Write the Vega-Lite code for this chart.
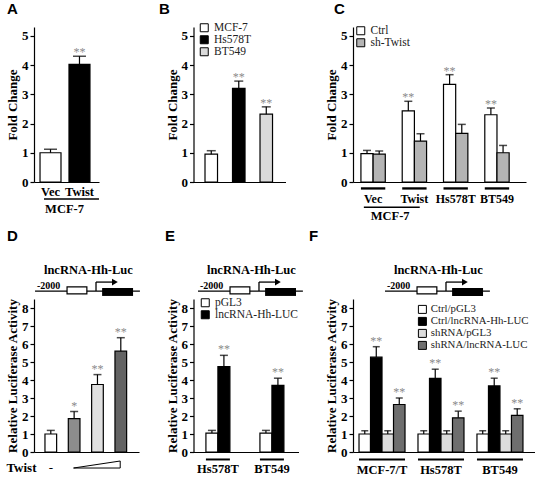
{
"$schema":"https://vega.github.io/schema/vega-lite/v6.json",
"background":"white",
"padding":{"left":5,"top":2,"right":0,"bottom":0},
"columns":3,
"bounds":"flush",
"spacing":{"row":117,"column":54.5},
"resolve":{"scale":{"fill":"independent","xOffset":"independent","x":"independent","y":"independent"},"legend":{"fill":"independent"}},
"config":{
 "view":{"stroke":null},
 "axis":{"grid":false,"labelOverlap":false,"labelBound":false,"domainColor":"black","domainWidth":1.2,"tickColor":"black","tickWidth":1.2,"tickSize":4,"labelFont":"Liberation Serif","labelFontWeight":"bold","labelFontSize":13,"labelColor":"black","labelPadding":2,"titleFont":"Liberation Serif","titleFontWeight":"bold","titleFontSize":13,"titleColor":"black","titlePadding":2},
 "legend":{"padding":0,"labelFont":"Liberation Serif","labelFontSize":11.5,"labelColor":"#222","symbolType":"square","symbolSize":64,"symbolStrokeColor":"black","symbolStrokeWidth":1,"rowPadding":1,"labelOffset":4},
 "title":{"font":"Liberation Sans","fontWeight":"bold","fontSize":15,"anchor":"start","frame":"group","color":"black","baseline":"alphabetic"}
},
"datasets":{
 "A":[{"g":"Vec","v":1.0,"hi":1.12,"sig":""},{"g":"Twist","v":4.02,"hi":4.3,"sig":"**"}],
 "B":[{"g":"MCF-7","v":0.95,"hi":1.07,"sig":""},{"g":"Hs578T","v":3.2,"hi":3.45,"sig":"**"},{"g":"BT549","v":2.32,"hi":2.57,"sig":"**"}],
 "C":[
  {"g":"Vec","s":"Ctrl","v":0.97,"hi":1.08,"sig":""},
  {"g":"Vec","s":"sh-Twist","v":0.95,"hi":1.06,"sig":""},
  {"g":"Twist","s":"Ctrl","v":2.43,"hi":2.76,"sig":"**"},
  {"g":"Twist","s":"sh-Twist","v":1.4,"hi":1.65,"sig":""},
  {"g":"Hs578T","s":"Ctrl","v":3.34,"hi":3.67,"sig":"**"},
  {"g":"Hs578T","s":"sh-Twist","v":1.66,"hi":1.97,"sig":""},
  {"g":"BT549","s":"Ctrl","v":2.3,"hi":2.53,"sig":"**"},
  {"g":"BT549","s":"sh-Twist","v":1.0,"hi":1.25,"sig":""}],
 "D":[{"g":"none","v":1.0,"hi":1.2,"sig":""},{"g":"low","v":1.85,"hi":2.25,"sig":"*"},{"g":"mid","v":3.75,"hi":4.3,"sig":"**"},{"g":"high","v":5.6,"hi":6.35,"sig":"**"}],
 "E":[
  {"g":"Hs578T","s":"pGL3","v":1.05,"hi":1.2,"sig":""},
  {"g":"Hs578T","s":"lncRNA-Hh-LUC","v":4.74,"hi":5.37,"sig":"**"},
  {"g":"BT549","s":"pGL3","v":1.05,"hi":1.2,"sig":""},
  {"g":"BT549","s":"lncRNA-Hh-LUC","v":3.7,"hi":4.1,"sig":"**"}],
 "F":[
  {"g":"MCF-7/T","s":"Ctrl/pGL3","v":1.0,"hi":1.18,"sig":""},
  {"g":"MCF-7/T","s":"Ctrl/lncRNA-Hh-LUC","v":5.27,"hi":5.85,"sig":"**"},
  {"g":"MCF-7/T","s":"shRNA/pGL3","v":1.0,"hi":1.18,"sig":""},
  {"g":"MCF-7/T","s":"shRNA/lncRNA-LUC","v":2.64,"hi":3.0,"sig":"**"},
  {"g":"Hs578T","s":"Ctrl/pGL3","v":1.0,"hi":1.18,"sig":""},
  {"g":"Hs578T","s":"Ctrl/lncRNA-Hh-LUC","v":4.09,"hi":4.6,"sig":"**"},
  {"g":"Hs578T","s":"shRNA/pGL3","v":1.0,"hi":1.18,"sig":""},
  {"g":"Hs578T","s":"shRNA/lncRNA-LUC","v":1.9,"hi":2.27,"sig":"**"},
  {"g":"BT549","s":"Ctrl/pGL3","v":1.0,"hi":1.18,"sig":""},
  {"g":"BT549","s":"Ctrl/lncRNA-Hh-LUC","v":3.67,"hi":4.1,"sig":"**"},
  {"g":"BT549","s":"shRNA/pGL3","v":1.0,"hi":1.18,"sig":""},
  {"g":"BT549","s":"shRNA/lncRNA-LUC","v":2.03,"hi":2.4,"sig":"**"}],
 "construct":[
  {"part":"promoter","start":-2000,"end":1440,"label":"-2000"},
  {"part":"element","start":-950,"end":-300},
  {"part":"tss","start":0,"end":620},
  {"part":"luc","start":200,"end":1215}],
 "wedge":[{"g":"low","yt":-0.89},{"g":"high","yt":-0.5}]
},
"concat":[
 {
  "width":65,"height":155,
  "title":{"text":"A","dx":-27,"offset":10},
  "data":{"name":"A"},
  "layer":[
   {"mark":{"type":"bar","stroke":"black","strokeWidth":1.2},
    "encoding":{
     "x":{"field":"g","type":"nominal","sort":null,"scale":{"domain":["Vec","Twist"],"paddingInner":0.276,"paddingOuter":0.26,"align":0.4},"axis":{"title":null,"labelAngle":0,"ticks":false,"labelPadding":3,"labelFontSize":12.5}},
     "y":{"field":"v","type":"quantitative","scale":{"domain":[0,5.3],"nice":false},"axis":{"values":[0,1,2,3,4,5],"labelOverlap":false,"title":"Fold Change"}},
     "fill":{"field":"g","type":"nominal","scale":{"domain":["Vec","Twist"],"range":["white","black"]},"legend":null}}},
   {"mark":{"type":"rule","color":"black","strokeWidth":1.2},"encoding":{"x":{"field":"g","type":"nominal"},"y":{"field":"v","type":"quantitative","axis":{"values":[0,1,2,3,4,5],"labelOverlap":false,"title":"Fold Change"}},"y2":{"field":"hi"}}},
   {"mark":{"type":"tick","color":"black","thickness":1.5,"size":13},"encoding":{"x":{"field":"g","type":"nominal"},"y":{"field":"hi","type":"quantitative","axis":{"values":[0,1,2,3,4,5],"labelOverlap":false,"title":"Fold Change"}}}},
   {"mark":{"type":"text","color":"#8a8a8a","font":"Liberation Serif","fontSize":12,"baseline":"alphabetic"},"encoding":{"x":{"field":"g","type":"nominal"},"y":{"field":"hi","type":"quantitative","axis":{"values":[0,1,2,3,4,5],"labelOverlap":false,"title":"Fold Change"}},"text":{"field":"sig"}}},
   {"data":{"values":[{}]},"mark":{"type":"rule","color":"black","strokeWidth":1.5},"encoding":{"x":{"datum":"Vec","type":"nominal","bandPosition":0.19},"x2":{"datum":"Twist","bandPosition":1.43},"y":{"datum":-0.58,"type":"quantitative","axis":{"values":[0,1,2,3,4,5],"labelOverlap":false,"title":"Fold Change"}}}},
   {"data":{"values":[{}]},"mark":{"type":"text","font":"Liberation Serif","fontWeight":"bold","fontSize":12.5,"baseline":"middle"},"encoding":{"x":{"datum":"Vec","type":"nominal","bandPosition":1.17},"y":{"datum":-0.92,"type":"quantitative","axis":{"values":[0,1,2,3,4,5],"labelOverlap":false,"title":"Fold Change"}},"text":{"value":"MCF-7"}}}
  ]
 },
 {
  "width":92,"height":155,
  "title":{"text":"B","dx":-34.5,"offset":5},
  "data":{"name":"B"},
  "layer":[
   {"mark":{"type":"bar","stroke":"black","strokeWidth":1.2},
    "encoding":{
     "x":{"field":"g","type":"nominal","sort":null,"scale":{"domain":["MCF-7","Hs578T","BT549"],"paddingInner":0.545,"paddingOuter":0.445,"align":0.47},"axis":{"title":null,"labels":false,"ticks":false}},
     "y":{"field":"v","type":"quantitative","scale":{"domain":[0,5.3],"nice":false},"axis":{"values":[0,1,2,3,4,5],"labelOverlap":false,"title":"Fold Change"}},
     "fill":{"field":"g","type":"nominal","scale":{"domain":["MCF-7","Hs578T","BT549"],"range":["white","black","#dadada"]},"legend":{"title":null,"orient":"none","legendX":5,"legendY":-5,"rowPadding":-1}}}},
   {"mark":{"type":"rule","color":"black","strokeWidth":1.2},"encoding":{"x":{"field":"g","type":"nominal"},"y":{"field":"v","type":"quantitative","axis":{"values":[0,1,2,3,4,5],"labelOverlap":false,"title":"Fold Change"}},"y2":{"field":"hi"}}},
   {"mark":{"type":"tick","color":"black","thickness":1.5,"size":9},"encoding":{"x":{"field":"g","type":"nominal"},"y":{"field":"hi","type":"quantitative","axis":{"values":[0,1,2,3,4,5],"labelOverlap":false,"title":"Fold Change"}}}},
   {"mark":{"type":"text","color":"#8a8a8a","font":"Liberation Serif","fontSize":12,"baseline":"alphabetic"},"encoding":{"x":{"field":"g","type":"nominal"},"y":{"field":"hi","type":"quantitative","axis":{"values":[0,1,2,3,4,5],"labelOverlap":false,"title":"Fold Change"}},"text":{"field":"sig"}}}
  ]
 },
 {
  "width":173,"height":155,
  "title":{"text":"C","dx":-19,"offset":8},
  "data":{"name":"C"},
  "layer":[
   {"mark":{"type":"bar","stroke":"black","strokeWidth":1.2},
    "encoding":{
     "x":{"field":"g","type":"nominal","sort":null,"scale":{"domain":["Vec","Twist","Hs578T","BT549"],"paddingInner":0.41,"paddingOuter":0.3,"align":0.32},"axis":{"title":null,"labelAngle":0,"ticks":false,"labelPadding":11,"labelFontSize":12}},
     "xOffset":{"field":"s","type":"nominal","sort":null,"scale":{"domain":["Ctrl","sh-Twist"]}},
     "y":{"field":"v","type":"quantitative","scale":{"domain":[0,5.3],"nice":false},"axis":{"values":[0,1,2,3,4,5],"labelOverlap":false,"title":"Fold Change"}},
     "fill":{"field":"s","type":"nominal","scale":{"domain":["Ctrl","sh-Twist"],"range":["white","#b4b4b4"]},"legend":{"title":null,"orient":"none","legendX":2,"legendY":-2,"rowPadding":-1}}}},
   {"mark":{"type":"rule","color":"black","strokeWidth":1.2},"encoding":{"x":{"field":"g","type":"nominal"},"xOffset":{"field":"s","type":"nominal"},"y":{"field":"v","type":"quantitative","axis":{"values":[0,1,2,3,4,5],"labelOverlap":false,"title":"Fold Change"}},"y2":{"field":"hi"}}},
   {"mark":{"type":"tick","color":"black","thickness":1.5,"size":8},"encoding":{"x":{"field":"g","type":"nominal"},"xOffset":{"field":"s","type":"nominal"},"y":{"field":"hi","type":"quantitative","axis":{"values":[0,1,2,3,4,5],"labelOverlap":false,"title":"Fold Change"}}}},
   {"mark":{"type":"text","color":"#8a8a8a","font":"Liberation Serif","fontSize":12,"baseline":"alphabetic"},"encoding":{"x":{"field":"g","type":"nominal"},"xOffset":{"field":"s","type":"nominal"},"y":{"field":"hi","type":"quantitative","axis":{"values":[0,1,2,3,4,5],"labelOverlap":false,"title":"Fold Change"}},"text":{"field":"sig"}}},
   {"data":{"values":[{"g":"Vec"},{"g":"Twist"},{"g":"Hs578T"},{"g":"BT549"}]},"mark":{"type":"bar","color":"black"},"encoding":{"x":{"field":"g","type":"nominal"},"y":{"datum":-0.18,"type":"quantitative","axis":{"values":[0,1,2,3,4,5],"labelOverlap":false,"title":"Fold Change"}},"y2":{"datum":-0.26}}},
   {"data":{"values":[{}]},"mark":{"type":"rule","color":"black","strokeWidth":1.5},"encoding":{"x":{"datum":"Vec","type":"nominal","bandPosition":0.12},"x2":{"datum":"Twist","bandPosition":0.72},"y":{"datum":-0.86,"type":"quantitative","axis":{"values":[0,1,2,3,4,5],"labelOverlap":false,"title":"Fold Change"}}}},
   {"data":{"values":[{}]},"mark":{"type":"text","font":"Liberation Serif","fontWeight":"bold","fontSize":12.5,"baseline":"middle"},"encoding":{"x":{"datum":"Vec","type":"nominal","bandPosition":1.2},"y":{"datum":-1.16,"type":"quantitative","axis":{"values":[0,1,2,3,4,5],"labelOverlap":false,"title":"Fold Change"}},"text":{"value":"MCF-7"}}}
  ]
 },
 {
  "width":105,"height":153,
  "title":{"text":"D","dx":-27,"offset":20},
  "resolve":{"scale":{"x":"independent"}},
  "layer":[
   {"data":{"name":"D"},"layer":[
    {"mark":{"type":"bar","stroke":"black","strokeWidth":1.2},
     "encoding":{
      "x":{"field":"g","type":"nominal","sort":null,"scale":{"domain":["none","low","mid","high"],"paddingInner":0.5,"paddingOuter":0.5,"align":0.47},"axis":{"title":"Twist","titleX":2,"titleY":15,"titleAlign":"right","titleBaseline":"middle","titleAngle":0,"labelExpr":"datum.value == 'none' ? '-' : ''","labelPadding":9,"labelAngle":0,"ticks":false,"labelFontWeight":"normal"}},
      "y":{"field":"v","type":"quantitative","scale":{"domain":[0,8.5],"nice":false},"axis":{"values":[0,1,2,3,4,5,6,7,8],"labelOverlap":false,"title":"Relative Luciferase Activity"}},
      "fill":{"field":"g","type":"nominal","scale":{"domain":["none","low","mid","high"],"range":["white","#8c8c8c","#e0e0e0","#636363"]},"legend":null}}},
    {"mark":{"type":"rule","color":"black","strokeWidth":1.2},"encoding":{"x":{"field":"g","type":"nominal"},"y":{"field":"v","type":"quantitative","axis":{"values":[0,1,2,3,4,5,6,7,8],"labelOverlap":false,"title":"Relative Luciferase Activity"}},"y2":{"field":"hi"}}},
    {"mark":{"type":"tick","color":"black","thickness":1.5,"size":8},"encoding":{"x":{"field":"g","type":"nominal"},"y":{"field":"hi","type":"quantitative","axis":{"values":[0,1,2,3,4,5,6,7,8],"labelOverlap":false,"title":"Relative Luciferase Activity"}}}},
    {"mark":{"type":"text","color":"#8a8a8a","font":"Liberation Serif","fontSize":12,"baseline":"alphabetic","dy":-2},"encoding":{"x":{"field":"g","type":"nominal"},"y":{"field":"hi","type":"quantitative","axis":{"values":[0,1,2,3,4,5,6,7,8],"labelOverlap":false,"title":"Relative Luciferase Activity"}},"text":{"field":"sig"}}},
    {"data":{"name":"wedge"},"mark":{"type":"area","fill":"white","stroke":"black","strokeWidth":1},"encoding":{"x":{"field":"g","type":"nominal","bandPosition":0.45},"y":{"field":"yt","type":"quantitative","axis":{"values":[0,1,2,3,4,5,6,7,8],"labelOverlap":false,"title":"Relative Luciferase Activity"}},"y2":{"datum":-0.89}}}
   ]},
   {"data":{"name":"construct"},"layer":[
    {"transform":[{"filter":"datum.part == 'promoter'"}],"mark":{"type":"rule","color":"black","strokeWidth":1.3},"encoding":{"x":{"field":"start","type":"quantitative","scale":{"domain":[-2034,1410],"nice":false,"zero":false},"axis":null},"x2":{"field":"end"},"y":{"datum":8.94,"type":"quantitative","axis":{"values":[0,1,2,3,4,5,6,7,8],"labelOverlap":false,"title":"Relative Luciferase Activity"}}}},
    {"transform":[{"filter":"datum.part == 'element'"}],"mark":{"type":"rect","fill":"white","stroke":"black","strokeWidth":1.2},"encoding":{"x":{"field":"start","type":"quantitative"},"x2":{"field":"end"},"y":{"datum":8.78,"type":"quantitative","axis":{"values":[0,1,2,3,4,5,6,7,8],"labelOverlap":false,"title":"Relative Luciferase Activity"}},"y2":{"datum":9.17}}},
    {"transform":[{"filter":"datum.part == 'luc'"}],"mark":{"type":"rect","fill":"black"},"encoding":{"x":{"field":"start","type":"quantitative"},"x2":{"field":"end"},"y":{"datum":8.67,"type":"quantitative","axis":{"values":[0,1,2,3,4,5,6,7,8],"labelOverlap":false,"title":"Relative Luciferase Activity"}},"y2":{"datum":9.11}}},
    {"transform":[{"filter":"datum.part == 'tss'"}],"mark":{"type":"rule","color":"black","strokeWidth":1.3},"encoding":{"x":{"field":"start","type":"quantitative"},"y":{"datum":8.94,"type":"quantitative","axis":{"values":[0,1,2,3,4,5,6,7,8],"labelOverlap":false,"title":"Relative Luciferase Activity"}},"y2":{"datum":9.44}}},
    {"transform":[{"filter":"datum.part == 'tss'"}],"mark":{"type":"rule","color":"black","strokeWidth":1.3},"encoding":{"x":{"field":"start","type":"quantitative"},"x2":{"field":"end"},"y":{"datum":9.44,"type":"quantitative","axis":{"values":[0,1,2,3,4,5,6,7,8],"labelOverlap":false,"title":"Relative Luciferase Activity"}}}},
    {"transform":[{"filter":"datum.part == 'tss'"}],"mark":{"type":"point","shape":"triangle-right","filled":true,"color":"black","size":45,"opacity":1},"encoding":{"x":{"field":"end","type":"quantitative"},"y":{"datum":9.44,"type":"quantitative","axis":{"values":[0,1,2,3,4,5,6,7,8],"labelOverlap":false,"title":"Relative Luciferase Activity"}}}},
    {"transform":[{"filter":"datum.part == 'promoter'"}],"mark":{"type":"text","align":"left","dx":2,"baseline":"alphabetic","font":"Liberation Serif","fontWeight":"bold","fontSize":10},"encoding":{"x":{"field":"start","type":"quantitative"},"y":{"datum":9.05,"type":"quantitative","axis":{"values":[0,1,2,3,4,5,6,7,8],"labelOverlap":false,"title":"Relative Luciferase Activity"}},"text":{"field":"label"}}},
    {"transform":[{"filter":"datum.part == 'promoter'"}],"mark":{"type":"text","baseline":"middle","font":"Liberation Serif","fontWeight":"bold","fontSize":12.5},"encoding":{"x":{"datum":-250,"type":"quantitative"},"y":{"datum":10.1,"type":"quantitative","axis":{"values":[0,1,2,3,4,5,6,7,8],"labelOverlap":false,"title":"Relative Luciferase Activity"}},"text":{"value":"lncRNA-Hh-Luc"}}}
   ]}
  ]
 },
 {
  "width":105,"height":153,
  "title":{"text":"E","dx":-28.5,"offset":20},
  "resolve":{"scale":{"x":"independent"}},
  "layer":[
   {"data":{"name":"E"},"layer":[
    {"mark":{"type":"bar","stroke":"black","strokeWidth":1.2},
     "encoding":{
      "x":{"field":"g","type":"nominal","sort":null,"scale":{"domain":["Hs578T","BT549"],"paddingInner":0.556,"paddingOuter":0.25,"align":0.46},"axis":{"title":null,"labelAngle":0,"ticks":false,"labelPadding":10,"labelFontSize":12.5}},
      "xOffset":{"field":"s","type":"nominal","sort":null,"scale":{"domain":["pGL3","lncRNA-Hh-LUC"]}},
      "y":{"field":"v","type":"quantitative","scale":{"domain":[0,8.5],"nice":false},"axis":{"values":[0,1,2,3,4,5,6,7,8],"labelOverlap":false,"title":"Relative Luciferase Activity"}},
      "fill":{"field":"s","type":"nominal","scale":{"domain":["pGL3","lncRNA-Hh-LUC"],"range":["white","black"]},"legend":{"title":null,"orient":"none","legendX":6,"legendY":-2,"rowPadding":-1}}}},
    {"mark":{"type":"rule","color":"black","strokeWidth":1.2},"encoding":{"x":{"field":"g","type":"nominal"},"xOffset":{"field":"s","type":"nominal"},"y":{"field":"v","type":"quantitative","axis":{"values":[0,1,2,3,4,5,6,7,8],"labelOverlap":false,"title":"Relative Luciferase Activity"}},"y2":{"field":"hi"}}},
    {"mark":{"type":"tick","color":"black","thickness":1.5,"size":8},"encoding":{"x":{"field":"g","type":"nominal"},"xOffset":{"field":"s","type":"nominal"},"y":{"field":"hi","type":"quantitative","axis":{"values":[0,1,2,3,4,5,6,7,8],"labelOverlap":false,"title":"Relative Luciferase Activity"}}}},
    {"mark":{"type":"text","color":"#8a8a8a","font":"Liberation Serif","fontSize":12,"baseline":"alphabetic","dy":-2},"encoding":{"x":{"field":"g","type":"nominal"},"xOffset":{"field":"s","type":"nominal"},"y":{"field":"hi","type":"quantitative","axis":{"values":[0,1,2,3,4,5,6,7,8],"labelOverlap":false,"title":"Relative Luciferase Activity"}},"text":{"field":"sig"}}},
    {"data":{"values":[{"g":"Hs578T"},{"g":"BT549"}]},"mark":{"type":"bar","color":"black"},"encoding":{"x":{"field":"g","type":"nominal"},"y":{"datum":-0.36,"type":"quantitative","axis":{"values":[0,1,2,3,4,5,6,7,8],"labelOverlap":false,"title":"Relative Luciferase Activity"}},"y2":{"datum":-0.47}}}
   ]},
   {"data":{"name":"construct"},"layer":[
    {"transform":[{"filter":"datum.part == 'promoter'"}],"mark":{"type":"rule","color":"black","strokeWidth":1.3},"encoding":{"x":{"field":"start","type":"quantitative","scale":{"domain":[-2148,1296],"nice":false,"zero":false},"axis":null},"x2":{"field":"end"},"y":{"datum":8.94,"type":"quantitative","axis":{"values":[0,1,2,3,4,5,6,7,8],"labelOverlap":false,"title":"Relative Luciferase Activity"}}}},
    {"transform":[{"filter":"datum.part == 'element'"}],"mark":{"type":"rect","fill":"white","stroke":"black","strokeWidth":1.2},"encoding":{"x":{"field":"start","type":"quantitative"},"x2":{"field":"end"},"y":{"datum":8.78,"type":"quantitative","axis":{"values":[0,1,2,3,4,5,6,7,8],"labelOverlap":false,"title":"Relative Luciferase Activity"}},"y2":{"datum":9.17}}},
    {"transform":[{"filter":"datum.part == 'luc'"}],"mark":{"type":"rect","fill":"black"},"encoding":{"x":{"field":"start","type":"quantitative"},"x2":{"field":"end"},"y":{"datum":8.67,"type":"quantitative","axis":{"values":[0,1,2,3,4,5,6,7,8],"labelOverlap":false,"title":"Relative Luciferase Activity"}},"y2":{"datum":9.11}}},
    {"transform":[{"filter":"datum.part == 'tss'"}],"mark":{"type":"rule","color":"black","strokeWidth":1.3},"encoding":{"x":{"field":"start","type":"quantitative"},"y":{"datum":8.94,"type":"quantitative","axis":{"values":[0,1,2,3,4,5,6,7,8],"labelOverlap":false,"title":"Relative Luciferase Activity"}},"y2":{"datum":9.44}}},
    {"transform":[{"filter":"datum.part == 'tss'"}],"mark":{"type":"rule","color":"black","strokeWidth":1.3},"encoding":{"x":{"field":"start","type":"quantitative"},"x2":{"field":"end"},"y":{"datum":9.44,"type":"quantitative","axis":{"values":[0,1,2,3,4,5,6,7,8],"labelOverlap":false,"title":"Relative Luciferase Activity"}}}},
    {"transform":[{"filter":"datum.part == 'tss'"}],"mark":{"type":"point","shape":"triangle-right","filled":true,"color":"black","size":45,"opacity":1},"encoding":{"x":{"field":"end","type":"quantitative"},"y":{"datum":9.44,"type":"quantitative","axis":{"values":[0,1,2,3,4,5,6,7,8],"labelOverlap":false,"title":"Relative Luciferase Activity"}}}},
    {"transform":[{"filter":"datum.part == 'promoter'"}],"mark":{"type":"text","align":"left","dx":2,"baseline":"alphabetic","font":"Liberation Serif","fontWeight":"bold","fontSize":10},"encoding":{"x":{"field":"start","type":"quantitative"},"y":{"datum":9.05,"type":"quantitative","axis":{"values":[0,1,2,3,4,5,6,7,8],"labelOverlap":false,"title":"Relative Luciferase Activity"}},"text":{"field":"label"}}},
    {"transform":[{"filter":"datum.part == 'promoter'"}],"mark":{"type":"text","baseline":"middle","font":"Liberation Serif","fontWeight":"bold","fontSize":12.5},"encoding":{"x":{"datum":-250,"type":"quantitative"},"y":{"datum":10.1,"type":"quantitative","axis":{"values":[0,1,2,3,4,5,6,7,8],"labelOverlap":false,"title":"Relative Luciferase Activity"}},"text":{"value":"lncRNA-Hh-Luc"}}}
   ]}
  ]
 },
 {
  "width":184,"height":153,
  "title":{"text":"F","dx":-44,"offset":20},
  "resolve":{"scale":{"x":"independent"}},
  "layer":[
   {"data":{"name":"F"},"layer":[
    {"mark":{"type":"bar","stroke":"black","strokeWidth":1.2},
     "encoding":{
      "x":{"field":"g","type":"nominal","sort":null,"scale":{"domain":["MCF-7/T","Hs578T","BT549"],"paddingInner":0.22,"paddingOuter":0.17,"align":0.3},"axis":{"title":null,"labelAngle":0,"ticks":false,"labelPadding":11,"labelFontSize":12.5}},
      "xOffset":{"field":"s","type":"nominal","sort":null,"scale":{"domain":["Ctrl/pGL3","Ctrl/lncRNA-Hh-LUC","shRNA/pGL3","shRNA/lncRNA-LUC"]}},
      "y":{"field":"v","type":"quantitative","scale":{"domain":[0,8.5],"nice":false},"axis":{"values":[0,1,2,3,4,5,6,7,8],"labelOverlap":false,"title":"Relative Luciferase Activity"}},
      "fill":{"field":"s","type":"nominal","scale":{"domain":["Ctrl/pGL3","Ctrl/lncRNA-Hh-LUC","shRNA/pGL3","shRNA/lncRNA-LUC"],"range":["white","black","#dcdcdc","#6e6e6e"]},"legend":{"title":null,"orient":"none","legendX":64,"legendY":5,"rowPadding":-1,"labelFontSize":10.8,"labelOffset":3}}}},
    {"mark":{"type":"rule","color":"black","strokeWidth":1.2},"encoding":{"x":{"field":"g","type":"nominal"},"xOffset":{"field":"s","type":"nominal"},"y":{"field":"v","type":"quantitative","axis":{"values":[0,1,2,3,4,5,6,7,8],"labelOverlap":false,"title":"Relative Luciferase Activity"}},"y2":{"field":"hi"}}},
    {"mark":{"type":"tick","color":"black","thickness":1.5,"size":7},"encoding":{"x":{"field":"g","type":"nominal"},"xOffset":{"field":"s","type":"nominal"},"y":{"field":"hi","type":"quantitative","axis":{"values":[0,1,2,3,4,5,6,7,8],"labelOverlap":false,"title":"Relative Luciferase Activity"}}}},
    {"mark":{"type":"text","color":"#8a8a8a","font":"Liberation Serif","fontSize":12,"baseline":"alphabetic","dy":-2},"encoding":{"x":{"field":"g","type":"nominal"},"xOffset":{"field":"s","type":"nominal"},"y":{"field":"hi","type":"quantitative","axis":{"values":[0,1,2,3,4,5,6,7,8],"labelOverlap":false,"title":"Relative Luciferase Activity"}},"text":{"field":"sig"}}},
    {"data":{"values":[{"g":"MCF-7/T"},{"g":"Hs578T"},{"g":"BT549"}]},"mark":{"type":"bar","color":"black"},"encoding":{"x":{"field":"g","type":"nominal"},"y":{"datum":-0.36,"type":"quantitative","axis":{"values":[0,1,2,3,4,5,6,7,8],"labelOverlap":false,"title":"Relative Luciferase Activity"}},"y2":{"datum":-0.47}}}
   ]},
   {"data":{"name":"construct"},"layer":[
    {"transform":[{"filter":"datum.part == 'promoter'"}],"mark":{"type":"rule","color":"black","strokeWidth":1.3},"encoding":{"x":{"field":"start","type":"quantitative","scale":{"domain":[-3050,2985],"nice":false,"zero":false},"axis":null},"x2":{"field":"end"},"y":{"datum":8.94,"type":"quantitative","axis":{"values":[0,1,2,3,4,5,6,7,8],"labelOverlap":false,"title":"Relative Luciferase Activity"}}}},
    {"transform":[{"filter":"datum.part == 'element'"}],"mark":{"type":"rect","fill":"white","stroke":"black","strokeWidth":1.2},"encoding":{"x":{"field":"start","type":"quantitative"},"x2":{"field":"end"},"y":{"datum":8.78,"type":"quantitative","axis":{"values":[0,1,2,3,4,5,6,7,8],"labelOverlap":false,"title":"Relative Luciferase Activity"}},"y2":{"datum":9.17}}},
    {"transform":[{"filter":"datum.part == 'luc'"}],"mark":{"type":"rect","fill":"black"},"encoding":{"x":{"field":"start","type":"quantitative"},"x2":{"field":"end"},"y":{"datum":8.67,"type":"quantitative","axis":{"values":[0,1,2,3,4,5,6,7,8],"labelOverlap":false,"title":"Relative Luciferase Activity"}},"y2":{"datum":9.11}}},
    {"transform":[{"filter":"datum.part == 'tss'"}],"mark":{"type":"rule","color":"black","strokeWidth":1.3},"encoding":{"x":{"field":"start","type":"quantitative"},"y":{"datum":8.94,"type":"quantitative","axis":{"values":[0,1,2,3,4,5,6,7,8],"labelOverlap":false,"title":"Relative Luciferase Activity"}},"y2":{"datum":9.44}}},
    {"transform":[{"filter":"datum.part == 'tss'"}],"mark":{"type":"rule","color":"black","strokeWidth":1.3},"encoding":{"x":{"field":"start","type":"quantitative"},"x2":{"field":"end"},"y":{"datum":9.44,"type":"quantitative","axis":{"values":[0,1,2,3,4,5,6,7,8],"labelOverlap":false,"title":"Relative Luciferase Activity"}}}},
    {"transform":[{"filter":"datum.part == 'tss'"}],"mark":{"type":"point","shape":"triangle-right","filled":true,"color":"black","size":45,"opacity":1},"encoding":{"x":{"field":"end","type":"quantitative"},"y":{"datum":9.44,"type":"quantitative","axis":{"values":[0,1,2,3,4,5,6,7,8],"labelOverlap":false,"title":"Relative Luciferase Activity"}}}},
    {"transform":[{"filter":"datum.part == 'promoter'"}],"mark":{"type":"text","align":"left","dx":2,"baseline":"alphabetic","font":"Liberation Serif","fontWeight":"bold","fontSize":10},"encoding":{"x":{"field":"start","type":"quantitative"},"y":{"datum":9.05,"type":"quantitative","axis":{"values":[0,1,2,3,4,5,6,7,8],"labelOverlap":false,"title":"Relative Luciferase Activity"}},"text":{"field":"label"}}},
    {"transform":[{"filter":"datum.part == 'promoter'"}],"mark":{"type":"text","baseline":"middle","font":"Liberation Serif","fontWeight":"bold","fontSize":12.5},"encoding":{"x":{"datum":-250,"type":"quantitative"},"y":{"datum":10.1,"type":"quantitative","axis":{"values":[0,1,2,3,4,5,6,7,8],"labelOverlap":false,"title":"Relative Luciferase Activity"}},"text":{"value":"lncRNA-Hh-Luc"}}}
   ]}
  ]
 }
]
}
